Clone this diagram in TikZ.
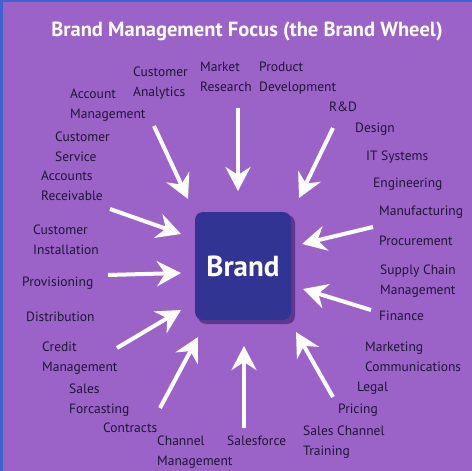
\documentclass[tikz,border=0pt]{standalone}
\usepackage{fontspec}
\setmainfont{PT Sans}
\usetikzlibrary{arrows.meta}
\definecolor{wheelbg}{RGB}{155,99,200}
\definecolor{wheeledge}{RGB}{62,100,208}
\definecolor{brandbox}{RGB}{50,52,148}
\definecolor{brandshadow}{RGB}{95,55,140}
\definecolor{lbltext}{RGB}{30,22,54}
\tikzset{
  lbl/.style={anchor=west, inner sep=0pt, align=left, text=lbltext,
    font=\fontsize{13.5}{19.5}\selectfont},
  spoke/.style={draw=white, line width=4pt,
    -{Stealth[length=24pt,width=25pt,inset=8pt]}}
}
\begin{document}
\begin{tikzpicture}[x=1pt,y=-1pt]
\useasboundingbox (0,0) rectangle (472,471);
\fill[wheelbg] (0,0) rectangle (472,471);
\fill[wheeledge] (0,0) rectangle (3,471);
\fill[wheeledge] (0,0) rectangle (472,1.5);
% title
\node[text=white, font=\fontsize{20.5}{23}\selectfont\bfseries] (title) at (247,31)
  {Brand Management Focus (the Brand Wheel)};
% the brand box
\fill[brandshadow, rounded corners=8pt] (198,215) rectangle (295,324);
\node[fill=brandbox, rounded corners=8pt, minimum width=96pt, minimum height=108pt,
  text=white, font=\fontsize{29}{32}\selectfont\bfseries] (brand) at (243,266) {Brand};
% labels
\node[lbl] (analytics) at (133,83) {Customer\\Analytics};
\node[lbl] (research) at (200,77) {Market\\Research};
\node[lbl] (product) at (259,78) {Product\\Development};
\node[lbl] (rnd) at (329,107) {R\&D};
\node[lbl] (design) at (355,129) {Design};
\node[lbl] (itsys) at (366,157) {IT Systems};
\node[lbl] (engin) at (373,184) {Engineering};
\node[lbl] (manuf) at (379,212) {Manufacturing};
\node[lbl] (procure) at (379,241) {Procurement};
\node[lbl] (supply) at (380,281) {Supply Chain\\Management};
\node[lbl] (finance) at (379,316) {Finance};
\node[lbl] (marcom) at (365,357) {Marketing\\Communications};
\node[lbl] (legal) at (357,388) {Legal};
\node[lbl] (pricing) at (338,410) {Pricing};
\node[lbl] (training) at (303,442) {Sales Channel\\Training};
\node[lbl] (salesforce) at (227,441) {Salesforce};
\node[lbl] (channel) at (157,452) {Channel\\Management};
\node[lbl] (contracts) at (103,428) {Contracts};
\node[lbl] (forecast) at (69,400) {Sales\\Forcasting};
\node[lbl] (credit) at (42,358) {Credit\\Management};
\node[lbl] (distrib) at (26,317) {Distribution};
\node[lbl] (provis) at (22,283) {Provisioning};
\node[lbl] (install) at (33,240) {Customer\\Installation};
\node[lbl] (receiv) at (41,186) {Accounts\\Receivable};
\node[lbl] (service) at (55,147) {Customer\\Service};
\node[lbl] (account) at (70,105) {Account\\Management};
% spokes into the brand
\foreach \i/\tx/\ty/\hx/\hy in {1/238/108/238/191, 2/333/128/299/198,
    3/154/126/188/199, 4/110/209/181/234, 5/373/227/302/244,
    6/108/275/181/273, 7/117/348/181/310, 8/160/408/198/337,
    9/244/428/244/346, 10/333/397/296/332, 11/371/310/303/289} {
  \coordinate (t\i) at (\tx,\ty);
  \coordinate (h\i) at (\hx,\hy);
  \draw[spoke] (t\i) -- (h\i);
}
\end{tikzpicture}
\end{document}
